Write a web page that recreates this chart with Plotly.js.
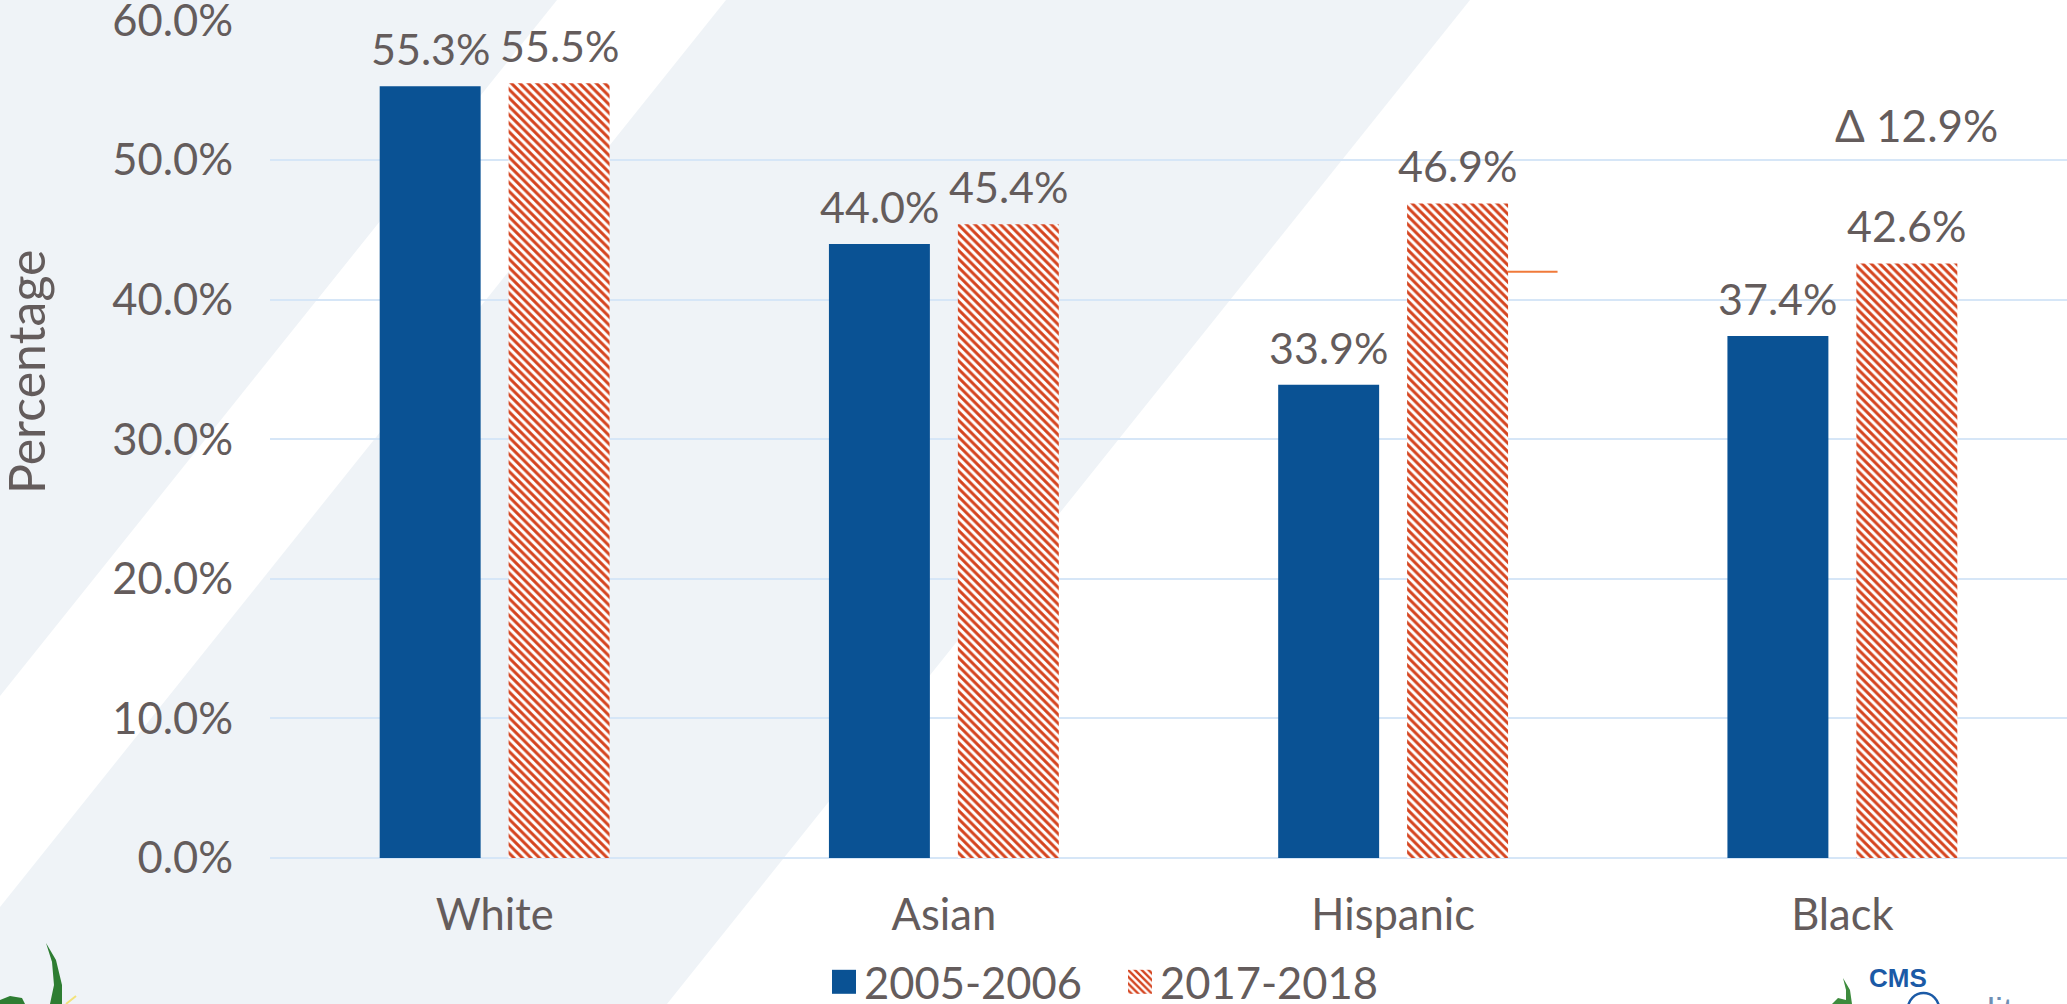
<!DOCTYPE html>
<html>
<head>
<meta charset="utf-8">
<script src="https://cdn.plot.ly/plotly-3.0.1.min.js"></script>
<style>
  html, body { margin: 0; padding: 0; background: #ffffff; }
  #chart { width: 2067px; height: 1004px; }
</style>
</head>
<body>
<div id="chart"></div>
<script>
// ---- data ----
const categories = ['White', 'Asian', 'Hispanic', 'Black'];
const seriesNames = ['2005-2006', '2017-2018'];
const values2005 = [55.3, 44.0, 33.9, 37.4];
const values2017 = [55.5, 45.4, 46.9, 42.6];
const yTickValues = [0, 10, 20, 30, 40, 50, 60];
const yTickLabels = ['0.0%', '10.0%', '20.0%', '30.0%', '40.0%', '50.0%', '60.0%'];
const yAxisTitle = 'Percentage';
const deltaText = 'Δ 12.9%';
const deltaValue = 52.5;
const refLineValue = 42.0;

// ---- style ----
const W = 2067, H = 1004;
const M = {l: 270, r: 0, t: 20, b: 146, autoexpand: false};
const textColor = '#645c5c';
const fontFamily = 'Lato, "Open Sans", sans-serif';
const fs = 43.5;
const blue = '#0a5294';
const red = '#d5441f';
const bgGray = '#eff3f7';
const gridColor = '#d6e6f7';
const bargap = 0.426, bargroupgap = 0.217;
const barOffset = (1 - bargap) / 4;   // centre of each bar slot within a category

const pw = W - M.l - M.r, ph = H - M.t - M.b;
const px = x => (x - M.l) / pw;
const py = y => (H - M.b - y) / ph;
function polyPath(points) {
  return 'M' + points.map(p => px(p[0]).toFixed(5) + ',' + py(p[1]).toFixed(5)).join('L') + 'Z';
}

const traces = [
  {
    type: 'bar', name: seriesNames[0], x: categories, y: values2005,
    marker: {color: blue, line: {width: 0}},
    hoverinfo: 'skip'
  },
  {
    type: 'bar', name: seriesNames[1], x: categories, y: values2017,
    marker: {color: '#ffffff', line: {width: 0},
      pattern: {shape: '\\', fgcolor: red, bgcolor: '#ffffff', size: 6, solidity: 0.5, fillmode: 'replace'}},
    hoverinfo: 'skip'
  }
];

const shapes = [
  {type: 'path', xref: 'paper', yref: 'paper', layer: 'below', line: {width: 0}, fillcolor: bgGray,
   path: polyPath([[0, 0], [557, 0], [0, 696]])},
  {type: 'path', xref: 'paper', yref: 'paper', layer: 'below', line: {width: 0}, fillcolor: bgGray,
   path: polyPath([[726, 0], [1470, 0], [667, 1004], [0, 1004], [0, 907]])},
  // short orange reference tick beside Hispanic bar
  {type: 'line', xref: 'x', yref: 'y', x0: 2.255, x1: 2.366, y0: refLineValue, y1: refLineValue,
   line: {color: '#f07a3a', width: 2}},
  // logo fragments (decor)
  {type: 'path', xref: 'paper', yref: 'paper', layer: 'above', line: {width: 0}, fillcolor: '#2e7d32',
   path: polyPath([[46, 943], [56, 960], [62, 985], [62, 1004], [50, 1004], [54, 985], [52, 962]])},
  {type: 'path', xref: 'paper', yref: 'paper', layer: 'above', line: {width: 0}, fillcolor: '#2e7d32',
   path: polyPath([[0, 1000], [10, 996], [22, 998], [25, 1004], [0, 1004]])},
  {type: 'line', xref: 'paper', yref: 'paper', x0: px(66), y0: py(1004), x1: px(76), y1: py(996),
   line: {color: '#f2e27a', width: 2}},
  {type: 'path', xref: 'paper', yref: 'paper', layer: 'above', line: {width: 0}, fillcolor: '#3d8b3d',
   path: polyPath([[1843, 978], [1850, 990], [1852, 1004], [1846, 1004], [1846, 990]])},
  {type: 'path', xref: 'paper', yref: 'paper', layer: 'above', line: {width: 0}, fillcolor: '#3d8b3d',
   path: polyPath([[1832, 1004], [1838, 998], [1846, 1000], [1846, 1004]])},
  {type: 'circle', xref: 'paper', yref: 'paper', x0: px(1908), x1: px(1939), y0: py(993), y1: py(1024),
   line: {color: '#1b5aa6', width: 2.5}}
];

const annotations = [];
// data labels above each bar, positioned from the data values on the axes
[values2005, values2017].forEach((vals, s) => {
  vals.forEach((v, i) => {
    annotations.push({
      xref: 'x', yref: 'y', x: i + (s === 0 ? -barOffset : barOffset), y: v,
      xanchor: 'center', yanchor: 'bottom', yshift: 10,
      text: v.toFixed(1) + '%', showarrow: false,
      font: {family: fontFamily, size: 43, color: textColor}
    });
  });
});
annotations.push(
  {xref: 'x', yref: 'y', x: 3.166, y: deltaValue, text: deltaText, showarrow: false,
   xanchor: 'center', yanchor: 'middle',
   font: {family: fontFamily, size: 44, color: textColor}},
  {xref: 'paper', yref: 'paper', x: px(26), y: py(372), text: yAxisTitle, showarrow: false,
   textangle: -90, xanchor: 'center', yanchor: 'middle', borderpad: 0,
   font: {family: fontFamily, size: 50, color: textColor}},
  {xref: 'paper', yref: 'paper', x: px(1898), y: py(978), text: '<b>CMS</b>', showarrow: false,
   xanchor: 'center', yanchor: 'middle',
   font: {family: 'Liberation Sans, Arial, sans-serif', size: 26, color: '#1b5aa6'}},
  {xref: 'paper', yref: 'paper', x: px(1945), y: py(1012), xanchor: 'left', yanchor: 'middle',
   text: 'uality', showarrow: false,
   font: {family: 'Liberation Sans, Arial, sans-serif', size: 36, color: '#6f8fb4'}}
);

const layout = {
  width: W, height: H,
  margin: M,
  paper_bgcolor: '#ffffff',
  plot_bgcolor: 'rgba(0,0,0,0)',
  font: {family: fontFamily, color: textColor, size: fs},
  barmode: 'group',
  bargap: bargap,
  bargroupgap: bargroupgap,
  showlegend: true,
  legend: {
    orientation: 'h', x: 0.473, xanchor: 'center', y: -0.148, yanchor: 'middle',
    font: {family: fontFamily, size: fs, color: textColor},
    entrywidth: 251, entrywidthmode: 'pixels',
    bgcolor: 'rgba(0,0,0,0)', traceorder: 'normal'
  },
  xaxis: {
    type: 'category', range: [-0.5, 3.5], showgrid: false, zeroline: false, showline: false,
    ticks: '', ticklabelstandoff: 27, automargin: false,
    tickfont: {family: fontFamily, size: fs, color: textColor}, fixedrange: true
  },
  yaxis: {
    range: [0, 60.04], tickmode: 'array', tickvals: yTickValues, ticktext: yTickLabels,
    showgrid: true, gridcolor: gridColor, gridwidth: 2, automargin: false,
    zeroline: true, zerolinecolor: gridColor, zerolinewidth: 2, showline: false,
    ticks: '', ticklabelstandoff: 36, ticklabeloverflow: 'allow',
    tickfont: {family: fontFamily, size: fs, color: textColor},
    fixedrange: true
  },
  shapes: shapes,
  annotations: annotations,
  hovermode: false
};

Plotly.newPlot('chart', traces, layout, {displayModeBar: false, staticPlot: true}).then(gd => {
  // enlarge legend swatches to match the reference size
  gd.querySelectorAll('.legend .legendpoints path').forEach(p => {
    p.setAttribute('d', 'M12,12H-12V-12H12Z');
  });
});
</script>
</body>
</html>
